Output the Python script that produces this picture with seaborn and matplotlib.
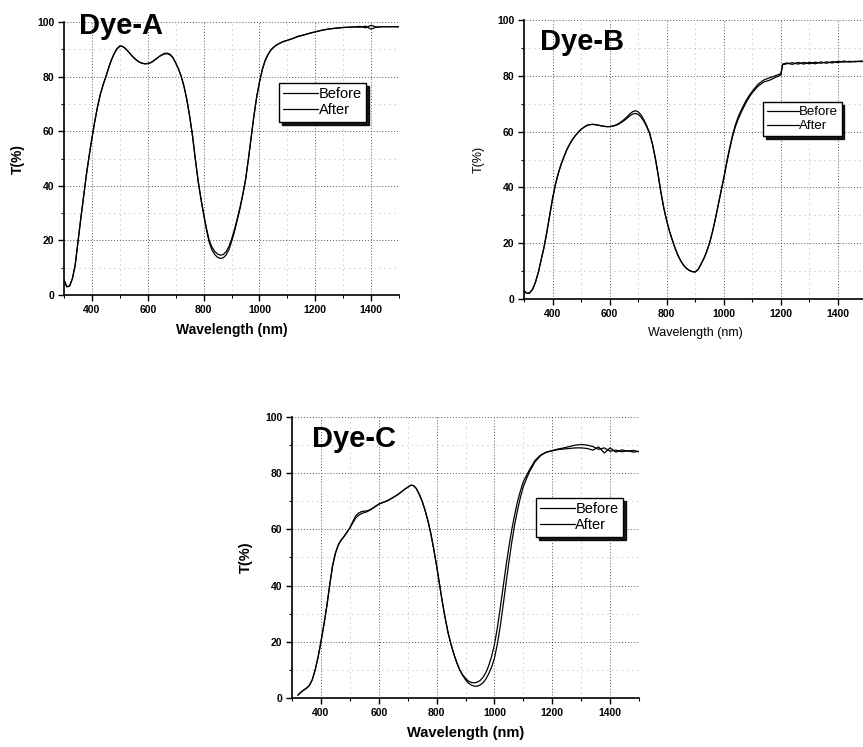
import matplotlib
matplotlib.use("Agg")
import matplotlib.pyplot as plt
import seaborn as sns
import pandas as pd
from matplotlib.ticker import MultipleLocator

# ---------------- data ----------------
# sampling wavelengths (nm)
wl_a = list(range(300, 1101, 10)) + list(range(1120, 1501, 20))
wl_b = list(range(300, 1101, 10)) + list(range(1120, 1201, 20)) + [1206] + list(range(1220, 1501, 20))
wl_c = list(range(320, 1101, 10)) + list(range(1120, 1501, 20))

a_before = [5.5, 3.0, 3.3, 6, 11, 19.5, 28, 36, 44, 51,
            57.5, 63.5, 69, 73.5, 77, 80, 83.3, 86.2, 88.5, 90.2,
            91.1, 91.0, 90.3, 89.2, 88, 86.9, 86, 85.3, 84.9, 84.7,
            84.8, 85.1, 85.7, 86.5, 87.3, 87.9, 88.3, 88.4, 88, 86.9,
            85, 82.8, 80, 76.3, 71.5, 65.5, 58.5, 50, 42, 35.5,
            29.5, 24, 19.3, 16.5, 14.8, 13.8, 13.4, 13.6, 14.6, 16.5,
            19.5, 23, 27.2, 31.5, 36.5, 42, 49.5, 57.5, 65.5, 72.5,
            78, 82.5, 85.8, 88, 89.6, 90.7, 91.5, 92.1, 92.6, 93,
            93.3,
            94, 94.8, 95.3, 95.9, 96.4, 96.9, 97.3, 97.6, 97.8, 98,
            98.1, 98.2, 98.1, 98.5, 97.4, 98.2, 98.3, 98.3, 98.3, 98.3]
a_after = [5.5, 3.0, 3.3, 6, 11, 19.5, 28, 36, 44, 51,
           57.5, 63.5, 69, 73.5, 77, 80, 83.3, 86.2, 88.5, 90.3,
           91.3, 91.1, 90.3, 89.2, 88, 86.9, 86, 85.3, 84.9, 84.7,
           84.8, 85.1, 85.7, 86.5, 87.3, 88, 88.5, 88.6, 88.2, 87,
           85, 82.8, 80, 76.3, 71.5, 65.5, 58.5, 50, 42, 35.5,
           29.8, 24.5, 20, 17.5, 15.9, 15, 14.6, 14.8, 15.8, 17.6,
           20.4, 23.8, 27.8, 32, 36.8, 42.2, 49.5, 57.5, 65.5, 72.5,
           78, 82.5, 85.8, 88, 89.6, 90.7, 91.5, 92.1, 92.6, 93,
           93.3,
           94, 94.8, 95.3, 95.9, 96.4, 96.9, 97.3, 97.6, 97.8, 98,
           98.1, 98.2, 98.4, 97.9, 98.8, 98.1, 98.3, 98.3, 98.3, 98.3]

b_before = [3, 2, 2.2, 3.5, 6, 9.5, 14, 18.5, 24, 30,
            36, 41, 45, 48.3, 51, 53.5, 55.5, 57.2, 58.6, 59.8,
            60.8, 61.6, 62.2, 62.5, 62.6, 62.5, 62.3, 62.1, 61.9, 61.8,
            61.8, 62, 62.3, 62.8, 63.5, 64.3, 65.2, 66.3, 67.1, 67.5,
            67.1, 66, 64.2, 62.1, 59.5, 55.5, 50.5, 44.5, 38, 32.5,
            28, 24.2, 21, 18, 15.5, 13.5, 12, 10.9, 10.2, 9.8,
            9.7, 10.6, 12.5, 14.5, 17, 20, 24, 28.5, 33.5, 38.5,
            43.5, 49, 54, 58.5, 62.3, 65.2, 67.5, 69.6, 71.5, 73.1,
            74.5,
            77, 78.5, 79.3, 80, 80.8,
            84,
            84.3, 84.7, 84.2, 84.8, 84.3, 84.9, 84.5, 85, 84.6, 85.2,
            84.9, 85.2, 85, 85.3, 85.2]
b_after = [3, 2, 2.2, 3.5, 6, 9.5, 14, 18.5, 24, 30,
           36, 41, 45, 48.3, 51, 53.5, 55.5, 57.2, 58.6, 59.8,
           60.8, 61.6, 62.2, 62.5, 62.6, 62.5, 62.3, 62.1, 61.9, 61.8,
           61.8, 61.9, 62.2, 62.6, 63.2, 63.9, 64.7, 65.6, 66.3, 66.5,
           66.2, 65.2, 63.7, 61.7, 59.3, 55.5, 50.5, 44.5, 38, 32.5,
           28, 24.2, 21, 18, 15.5, 13.5, 12, 10.9, 10.2, 9.8,
           9.7, 10.6, 12.5, 14.5, 17, 20, 24, 28.5, 33.5, 38.5,
           43.3, 48.6, 53.5, 58, 61.6, 64.4, 66.7, 68.8, 70.8, 72.5,
           74,
           76.3, 77.8, 78.4, 79.4, 80.3,
           84.2,
           84.6, 84.1, 84.8, 84.2, 84.9, 84.3, 85, 84.5, 85.1, 84.7,
           85.3, 84.9, 85.2, 85.1, 85.2]

c_before = [1.0, 2.0, 2.8, 3.5, 4.5, 6.5, 10, 14.5,
            20, 26, 32.5, 40, 47, 51.5, 54.5, 56.2, 57.5, 59,
            60.5, 62.3, 64, 65, 65.6, 66, 66.3, 66.9, 67.6, 68.3,
            69, 69.4, 69.8, 70.2, 70.8, 71.4, 72, 72.7, 73.5, 74.3,
            75, 75.7, 75.6, 74.5, 72.5, 70, 66.8, 63, 58.5, 53,
            47, 40.5, 34, 28.2, 23, 19, 15.5, 12.5, 10, 8.3,
            7, 6, 5.5, 5.4, 5.6, 6.2, 7.3, 9, 11.5, 14.8,
            19, 25, 32, 39.5, 47, 53.8, 60, 65.3, 70, 73.8,
            77,
            81, 84.5, 86.5, 87.5, 88, 88.6, 89, 89.5, 90, 90.2,
            90, 89.5, 88.5, 89, 87.8, 88.2, 87.6, 88, 87.5, 87.8]
c_after = [1.0, 2.0, 2.8, 3.5, 4.5, 6.5, 10, 14.5,
           20, 26, 32.5, 40, 47, 51.5, 54.5, 56.2, 57.5, 59,
           60.5, 62.8, 64.8, 65.8, 66.3, 66.5, 66.6, 67, 67.6, 68.3,
           69, 69.4, 69.8, 70.2, 70.8, 71.4, 72, 72.7, 73.5, 74.3,
           75, 75.7, 75.6, 74.5, 72.5, 70, 66.8, 63, 58.5, 53,
           47, 40.5, 34, 28.2, 23, 19, 15.5, 12.5, 10, 8.0,
           6.5, 5.3, 4.6, 4.2, 4.2, 4.6, 5.4, 6.7, 8.6, 11,
           14.2, 19.2, 25.5, 33, 40.8, 48.5, 55.5, 61.8, 67, 71.5,
           75.3,
           80.3, 84, 86.3, 87.5, 88, 88.4, 88.6, 88.8, 89, 89,
           88.8, 88.2, 89.3, 87.2, 89, 87.5, 88.3, 87.8, 88.1, 87.6]

titles = ["Dye-A", "Dye-B", "Dye-C"]
series_labels = ["Before", "After"]
x_ticks = [400, 600, 800, 1000, 1200, 1400]
y_ticks = [0, 20, 40, 60, 80, 100]

# ---------------- style ----------------
sns.set_theme(style="white")
plt.rcParams["font.family"] = ["Liberation Sans", "DejaVu Sans"]
plt.rcParams["text.color"] = "black"
plt.rcParams["axes.labelcolor"] = "black"
plt.rcParams["xtick.color"] = "black"
plt.rcParams["ytick.color"] = "black"

fig = plt.figure(figsize=(8.63, 7.47), dpi=100)

panels = [
    dict(wl=wl_a, before=a_before, after=a_after, title=titles[0],
         rect=[0.0742, 0.6051, 0.3882, 0.3654], bold=True, lab_fs=10,
         title_xy=(355, 95.5), leg=(0.642, 0.777), leg_fs=10.5, ypad=9),
    dict(wl=wl_b, before=b_before, after=b_after, title=titles[1],
         rect=[0.6072, 0.5997, 0.3969, 0.3735], bold=False, lab_fs=9,
         title_xy=(356, 89.2), leg=(0.698, 0.706), leg_fs=9.5, ypad=9),
    dict(wl=wl_c, before=c_before, after=c_after, title=titles[2],
         rect=[0.3384, 0.0656, 0.4021, 0.3762], bold=True, lab_fs=10.5,
         title_xy=(369, 89.3), leg=(0.703, 0.712), leg_fs=10.5, ypad=9),
]

for p in panels:
    ax = fig.add_axes(p["rect"])
    n = len(p["wl"])
    df = pd.DataFrame({"wl": p["wl"] * 2,
                       "T": p["before"] + p["after"],
                       "kind": [series_labels[0]] * n + [series_labels[1]] * n})
    sns.lineplot(data=df, x="wl", y="T", hue="kind", palette=["black", "black"],
                 linewidth=0.9, ax=ax, legend=False, sort=False, estimator=None)
    ax.set_xlim(300, 1500)
    ax.set_ylim(0, 100)
    ax.set_xticks(x_ticks)
    ax.set_yticks(y_ticks)
    ax.xaxis.set_minor_locator(MultipleLocator(100))
    ax.yaxis.set_minor_locator(MultipleLocator(10))
    for s in ["top", "right"]:
        ax.spines[s].set_visible(False)
    for s in ["left", "bottom"]:
        ax.spines[s].set_color("black")
        ax.spines[s].set_linewidth(1.2)
    ax.tick_params(which="major", direction="out", length=4, width=1, color="black",
                   labelsize=7.5, pad=3, bottom=True, left=True, labelcolor="black")
    ax.tick_params(which="minor", direction="out", length=2, width=0.8, color="black",
                   bottom=True, left=True)
    for lab in ax.get_xticklabels() + ax.get_yticklabels():
        lab.set_fontweight("bold")
    ax.grid(which="major", color="#555555", linestyle=(0, (1, 2)), linewidth=0.7)
    ax.grid(which="minor", color="#9a9a9a", linestyle=(0, (1, 5)), linewidth=0.6)
    ax.set_axisbelow(True)

    fw = "bold" if p["bold"] else "normal"
    ax.set_xlabel("Wavelength (nm)", fontsize=p["lab_fs"], fontweight=fw, labelpad=6,
                  color="black")
    ax.set_ylabel("T(%)", fontsize=p["lab_fs"], fontweight=fw, labelpad=p["ypad"],
                  color="black")

    ax.text(p["title_xy"][0], p["title_xy"][1], p["title"], fontsize=21,
            fontweight="bold", ha="left", va="baseline", clip_on=False, zorder=5,
            color="black")

    lines = ax.get_lines()[:2]
    leg = ax.legend(lines, series_labels, loc="upper left", bbox_to_anchor=p["leg"],
                    borderaxespad=0, frameon=True, fancybox=False,
                    shadow={"color": "black", "alpha": 0.9},
                    edgecolor="black", framealpha=1, fontsize=p["leg_fs"],
                    handlelength=2.4, handletextpad=0.0, labelspacing=0.15,
                    borderpad=0.3)
    leg.get_frame().set_linewidth(1.0)
    for t in leg.get_texts():
        t.set_color("black")

fig.savefig("out.png", dpi=100)
